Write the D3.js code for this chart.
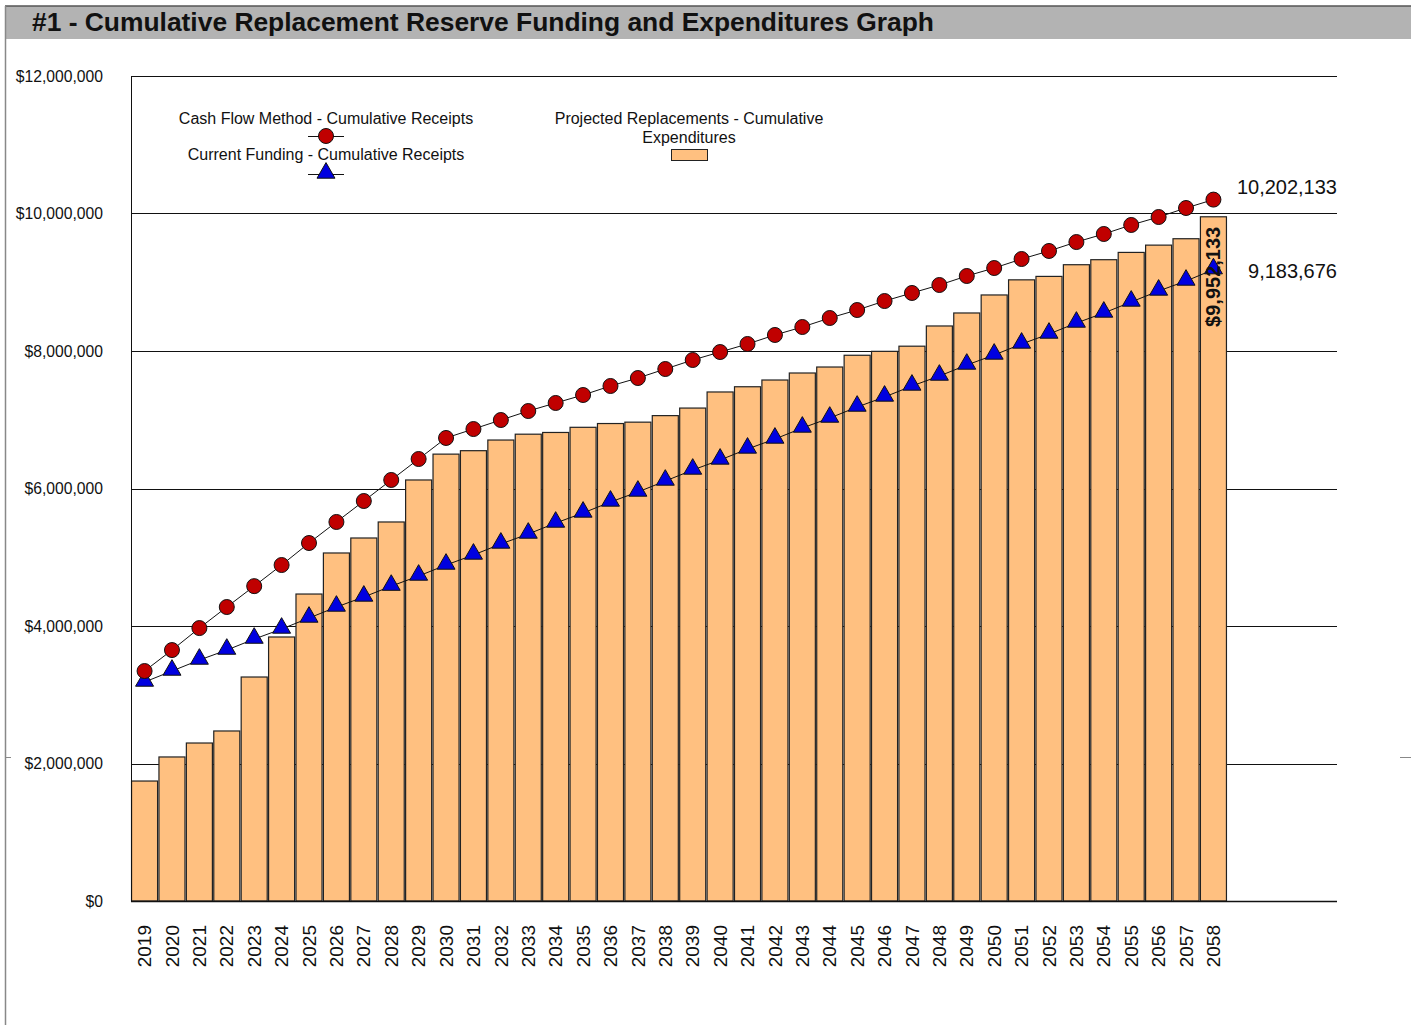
<!DOCTYPE html>
<html>
<head>
<meta charset="utf-8">
<script src="https://d3js.org/d3.v7.min.js"></script>
<style>
  body { margin: 0; background: #fff; }
  svg { display: block; font-family: "Liberation Sans", Arial, sans-serif; }
</style>
</head>
<body>
<div id="chart"></div>
<script>
// years on the x axis
const years = d3.range(2019, 2059).map(String);

// Projected Replacements - Cumulative Expenditures (bars)
const expenditures = [
  1745000, 2095000, 2298000, 2473000, 3258000, 3840000, 4465000, 5062000, 5280000, 5513000,
  6124000, 6500000, 6550000, 6705000, 6790000, 6815000, 6890000, 6945000, 6965000, 7060000,
  7170000, 7404000, 7480000, 7578000, 7680000, 7767000, 7938000, 7995000, 8070000, 8364000,
  8553000, 8815000, 9035000, 9085000, 9255000, 9328000, 9434000, 9540000, 9633000, 9952133
];

// Cash Flow Method - Cumulative Receipts (red circles)
const cashFlow = [
  3345000, 3650000, 3970000, 4276000, 4580000, 4887000, 5207000, 5513000, 5818000, 6124000,
  6429000, 6735000, 6865000, 6996000, 7127000, 7244000, 7360000, 7491000, 7607000, 7738000,
  7869000, 7985000, 8102000, 8233000, 8349000, 8480000, 8596000, 8727000, 8844000, 8960000,
  9091000, 9207000, 9338000, 9455000, 9585000, 9702000, 9833000, 9949000, 10080000, 10202133
];

// Current Funding - Cumulative Receipts (blue triangles)
const currentFunding = [
  3185000, 3345000, 3505000, 3650000, 3810000, 3956000, 4116000, 4276000, 4422000, 4580000,
  4727000, 4887000, 5033000, 5193000, 5338000, 5498000, 5644000, 5804000, 5949000, 6109000,
  6269000, 6415000, 6575000, 6720000, 6880000, 7025000, 7185000, 7331000, 7491000, 7636000,
  7796000, 7942000, 8102000, 8247000, 8407000, 8553000, 8713000, 8873000, 9018000, 9183676
];

const yTicks = [0, 2000000, 4000000, 6000000, 8000000, 10000000, 12000000];

const W = 1411, H = 1025;
const plotLeft = 131, plotRight = 1337, plotTop = 76, plotBottom = 901;

const svg = d3.select("#chart").append("svg")
  .attr("width", W)
  .attr("height", H);

// frame and title bar
svg.append("rect")
  .attr("x", 5).attr("y", 6)
  .attr("width", W - 5).attr("height", 33)
  .attr("fill", "#b3b3b3");
svg.append("line")
  .attr("x1", 5).attr("y1", 6).attr("x2", W).attr("y2", 6)
  .attr("stroke", "#555").attr("stroke-width", 1.5);
svg.append("line")
  .attr("x1", 5.5).attr("y1", 6).attr("x2", 5.5).attr("y2", H)
  .attr("stroke", "#888").attr("stroke-width", 1.5);
svg.append("text")
  .attr("x", 32).attr("y", 31)
  .attr("font-size", 26.4).attr("font-weight", "bold")
  .attr("fill", "#111")
  .text("#1 - Cumulative Replacement Reserve Funding and Expenditures Graph");

// small stray ticks at the edges
svg.append("line")
  .attr("x1", 5).attr("x2", 11).attr("y1", 757.5).attr("y2", 757.5)
  .attr("stroke", "#888");
svg.append("line")
  .attr("x1", 1400).attr("x2", W).attr("y1", 757.5).attr("y2", 757.5)
  .attr("stroke", "#888");

// scales
const x = d3.scaleBand()
  .domain(years)
  .range([plotLeft, 1227])
  .paddingInner(0.05)
  .paddingOuter(0.02);

const y = d3.scaleLinear()
  .domain([0, 12000000])
  .range([plotBottom, plotTop]);

const cx = d => x(d) + x.bandwidth() / 2;

// gridlines
svg.append("g")
  .selectAll("line")
  .data(yTicks)
  .join("line")
  .attr("x1", plotLeft).attr("x2", plotRight)
  .attr("y1", d => Math.round(y(d)) + 0.5)
  .attr("y2", d => Math.round(y(d)) + 0.5)
  .attr("stroke", "#111").attr("stroke-width", 1);

// y axis labels
const yAxis = d3.axisLeft(y)
  .tickValues(yTicks)
  .tickFormat(d3.format("$,.0f"))
  .tickSize(0)
  .tickPadding(28);
const yg = svg.append("g")
  .attr("transform", `translate(${plotLeft},0)`)
  .call(yAxis);
yg.select(".domain").remove();
yg.selectAll("text")
  .attr("font-size", 15.7)
  .attr("font-family", "'Liberation Sans', Arial, sans-serif")
  .attr("fill", "#111");

// bars
svg.append("g")
  .selectAll("rect")
  .data(expenditures)
  .join("rect")
  .attr("x", (d, i) => x(years[i]))
  .attr("y", d => y(d))
  .attr("width", x.bandwidth())
  .attr("height", d => plotBottom - y(d))
  .attr("fill", "#ffc080")
  .attr("stroke", "#222")
  .attr("stroke-width", 1.2);

// left axis line and bottom line
svg.append("line")
  .attr("x1", plotLeft + 0.5).attr("x2", plotLeft + 0.5)
  .attr("y1", plotTop).attr("y2", plotBottom)
  .attr("stroke", "#111");
svg.append("line")
  .attr("x1", plotLeft).attr("x2", plotRight)
  .attr("y1", plotBottom + 0.5).attr("y2", plotBottom + 0.5)
  .attr("stroke", "#111").attr("stroke-width", 1.5);

// x axis labels
const xAxis = d3.axisBottom(x).tickSize(0).tickPadding(0);
const xg = svg.append("g")
  .attr("transform", `translate(0,${plotBottom})`)
  .call(xAxis);
xg.select(".domain").remove();
xg.selectAll("text")
  .attr("font-size", 19)
  .attr("font-family", "'Liberation Sans', Arial, sans-serif")
  .attr("fill", "#111")
  .attr("text-anchor", "end")
  .attr("dy", "0.35em")
  .attr("transform", "translate(0,24) rotate(-90)");

// lines
const line = d3.line()
  .x((d, i) => cx(years[i]))
  .y(d => y(d));

svg.append("path")
  .datum(cashFlow)
  .attr("d", line)
  .attr("fill", "none")
  .attr("stroke", "#111").attr("stroke-width", 1);

svg.append("path")
  .datum(currentFunding)
  .attr("d", line)
  .attr("fill", "none")
  .attr("stroke", "#111").attr("stroke-width", 1);

// markers
const triangle = d3.symbol().type(d3.symbolTriangle).size(140);

svg.append("g")
  .selectAll("path")
  .data(currentFunding)
  .join("path")
  .attr("d", triangle)
  .attr("transform", (d, i) => `translate(${cx(years[i])},${y(d) - 1})`)
  .attr("fill", "#0000e0")
  .attr("stroke", "#111").attr("stroke-width", 1);

svg.append("g")
  .selectAll("circle")
  .data(cashFlow)
  .join("circle")
  .attr("cx", (d, i) => cx(years[i]))
  .attr("cy", d => y(d))
  .attr("r", 7.5)
  .attr("fill", "#c00000")
  .attr("stroke", "#111").attr("stroke-width", 1);

// last bar value label
const last = years.length - 1;
svg.append("text")
  .attr("transform", `translate(${cx(years[last]) + 7},${y(expenditures[last]) + 10}) rotate(-90)`)
  .attr("text-anchor", "end")
  .attr("font-size", 20).attr("font-weight", "bold")
  .attr("fill", "#111")
  .text(d3.format("$,.0f")(expenditures[last]));

// end value labels
svg.append("text")
  .attr("x", plotRight).attr("y", y(cashFlow[last]) - 6)
  .attr("text-anchor", "end")
  .attr("font-size", 20).attr("fill", "#111")
  .text(d3.format(",.0f")(cashFlow[last]));
svg.append("text")
  .attr("x", plotRight).attr("y", y(currentFunding[last]) + 8)
  .attr("text-anchor", "end")
  .attr("font-size", 20).attr("fill", "#111")
  .text(d3.format(",.0f")(currentFunding[last]));

// legend
const lg = svg.append("g").attr("font-size", 16).attr("fill", "#111");
lg.append("text").attr("x", 326).attr("y", 124).attr("text-anchor", "middle")
  .text("Cash Flow Method - Cumulative Receipts");
lg.append("line").attr("x1", 308).attr("x2", 344).attr("y1", 136.5).attr("y2", 136.5)
  .attr("stroke", "#111");
lg.append("circle").attr("cx", 326).attr("cy", 136).attr("r", 7.5)
  .attr("fill", "#c00000").attr("stroke", "#111");

lg.append("text").attr("x", 326).attr("y", 160).attr("text-anchor", "middle")
  .text("Current Funding - Cumulative Receipts");
lg.append("line").attr("x1", 308).attr("x2", 344).attr("y1", 174.5).attr("y2", 174.5)
  .attr("stroke", "#111");
lg.append("path").attr("d", triangle)
  .attr("transform", "translate(326,173)")
  .attr("fill", "#0000e0").attr("stroke", "#111");

lg.append("text").attr("x", 689).attr("y", 124).attr("text-anchor", "middle")
  .text("Projected Replacements - Cumulative");
lg.append("text").attr("x", 689).attr("y", 143).attr("text-anchor", "middle")
  .text("Expenditures");
lg.append("rect").attr("x", 671.5).attr("y", 149.5).attr("width", 36).attr("height", 11)
  .attr("fill", "#ffc080").attr("stroke", "#222");
</script>
</body>
</html>
